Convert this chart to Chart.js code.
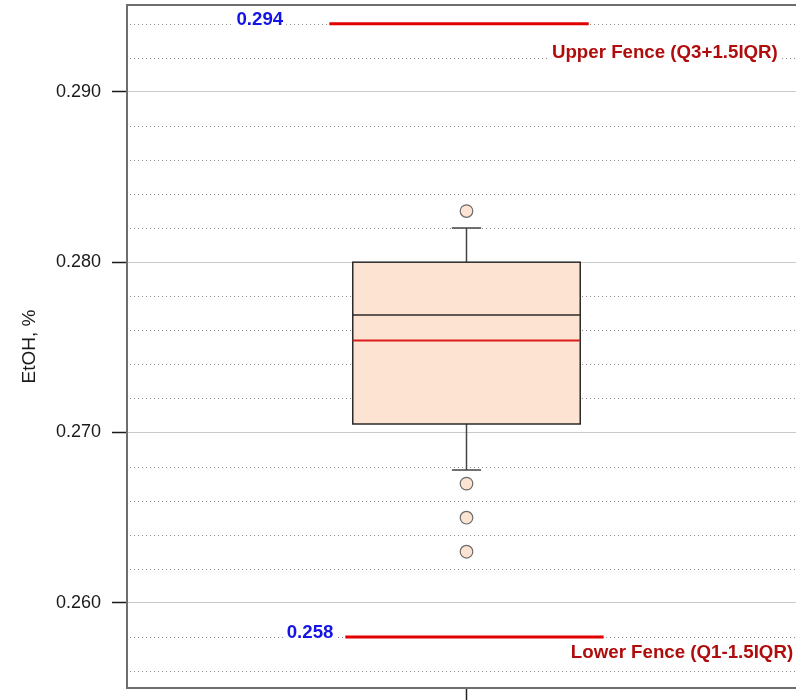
<!DOCTYPE html>
<html>
<head>
<meta charset="utf-8">
<script src="https://cdn.jsdelivr.net/npm/chart.js@4.4.1/dist/chart.umd.min.js"></script>
<style>
  html, body { margin: 0; padding: 0; background: #fff; overflow: hidden; }
  #c { display: block; }
</style>
</head>
<body>
<canvas id="c" width="806" height="700"></canvas>
<script>
// EtOH content: box-and-whisker summary with Tukey fences
const quartiles = [0.2705, 0.2769, 0.2800];      // Q1, median, Q3
const whiskerEnds = [0.2678, 0.2820];             // lower, upper whisker
const meanValue = [0.2754];
const outlierValues = [0.283, 0.267, 0.265, 0.263];
const fenceValues = [0.258, 0.294];               // lower, upper
const fenceNames = ['Lower Fence (Q1-1.5IQR)', 'Upper Fence (Q3+1.5IQR)'];
const majorTicks = [0.26, 0.27, 0.28, 0.29];
const axisTitle = 'EtOH, %';

// ---- layout and style ----
const FONT = '"Liberation Sans", Arial, sans-serif';
const Y_MIN = 0.255, Y_MAX = 0.2951, MINOR_STEP = 0.002;
const BOX_X = 1;                 // box sits in the middle of a 0..2 x range
const BOX_HALF = 0.335;          // half box width, x units
const CAP_HALF = 0.043;          // half whisker cap width, x units
const FENCE_SPAN = [[0.643, 1.404], [0.596, 1.360]];
const NUM_RIGHT = [0.608, 0.460];   // right edge of the value tag
const NAME_RIGHT = [1.962, 1.917];  // right edge of the fence name
const NUM_DY = [-4, -4];
const NAME_DY = [16, 29];

const BOX_FILL = '#FDE4D2';
const FENCE_RED = '#E00000';
const NAME_RED = '#B00C0C';
const TAG_BLUE = '#1414E6';

const boxPlugin = {
  id: 'boxPlot',
  beforeDatasetsDraw(chart) {
    const { ctx, chartArea: a, scales: { x, y } } = chart;

    // dotted minor grid between the major lines
    ctx.save();
    ctx.strokeStyle = '#8c8c8c';
    ctx.lineWidth = 1;
    ctx.setLineDash([1, 3]);
    const n = Math.round((Y_MAX - Y_MIN) / MINOR_STEP);
    for (let k = 0; k <= n + 1; k++) {
      const v = Math.ceil(Y_MIN / MINOR_STEP) * MINOR_STEP + k * MINOR_STEP;
      if (v >= Y_MAX) break;
      if (Math.round(v * 1000) % 10 === 0) continue;
      const py = Math.round(y.getPixelForValue(v)) + 0.5;
      ctx.beginPath();
      ctx.moveTo(a.left + 3, py);
      ctx.lineTo(a.right, py);
      ctx.stroke();
    }
    ctx.restore();

    const cx = x.getPixelForValue(BOX_X);
    const l = x.getPixelForValue(BOX_X - BOX_HALF);
    const r = x.getPixelForValue(BOX_X + BOX_HALF);
    const cl = x.getPixelForValue(BOX_X - CAP_HALF);
    const cr = x.getPixelForValue(BOX_X + CAP_HALF);
    const q1 = y.getPixelForValue(quartiles[0]);
    const md = y.getPixelForValue(quartiles[1]);
    const q3 = y.getPixelForValue(quartiles[2]);
    const wl = y.getPixelForValue(whiskerEnds[0]);
    const wu = y.getPixelForValue(whiskerEnds[1]);
    const mn = y.getPixelForValue(meanValue[0]);

    ctx.save();
    ctx.lineWidth = 1.5;
    ctx.strokeStyle = '#444';
    ctx.beginPath();
    ctx.moveTo(cx, q3); ctx.lineTo(cx, wu);
    ctx.moveTo(cl, wu); ctx.lineTo(cr, wu);
    ctx.moveTo(cx, q1); ctx.lineTo(cx, wl);
    ctx.moveTo(cl, wl); ctx.lineTo(cr, wl);
    ctx.stroke();

    ctx.fillStyle = BOX_FILL;
    ctx.fillRect(l, q3, r - l, q1 - q3);
    ctx.strokeStyle = '#2a2a2a';
    ctx.strokeRect(l, q3, r - l, q1 - q3);

    ctx.beginPath();
    ctx.moveTo(l, md); ctx.lineTo(r, md);
    ctx.stroke();

    ctx.strokeStyle = '#DC1C1C';
    ctx.lineWidth = 2;
    ctx.beginPath();
    ctx.moveTo(l, mn); ctx.lineTo(r, mn);
    ctx.stroke();
    ctx.restore();
  },
  afterDatasetsDraw(chart) {
    const { ctx, scales: { x, y } } = chart;
    ctx.save();
    ctx.font = 'bold 18.7px ' + FONT;
    ctx.textBaseline = 'middle';
    ctx.textAlign = 'right';
    const tag = (text, xr, yc, color) => {
      const w = ctx.measureText(text).width;
      ctx.fillStyle = '#fff';
      ctx.fillRect(xr - w - 3, yc - 9, w + 6, 18);
      ctx.fillStyle = color;
      ctx.fillText(text, xr, yc);
    };
    fenceValues.forEach((v, i) => {
      const py = y.getPixelForValue(v);
      tag(v.toFixed(3), x.getPixelForValue(NUM_RIGHT[i]), py + NUM_DY[i], TAG_BLUE);
      tag(fenceNames[i], x.getPixelForValue(NAME_RIGHT[i]), py + NAME_DY[i], NAME_RED);
    });
    ctx.restore();
  },
  afterDraw(chart) {
    const { ctx, chartArea: a } = chart;
    ctx.save();
    ctx.strokeStyle = '#6e6e6e';
    ctx.lineWidth = 2;
    ctx.beginPath();
    ctx.moveTo(a.right + 2, a.top); ctx.lineTo(a.left, a.top);
    ctx.lineTo(a.left, a.bottom); ctx.lineTo(a.right + 2, a.bottom);
    ctx.stroke();
    ctx.restore();
  }
};

const fenceDatasets = fenceValues.map((v, i) => ({
  type: 'line',
  data: FENCE_SPAN[i].map(xv => ({ x: xv, y: v })),
  borderColor: FENCE_RED,
  borderWidth: 3,
  pointRadius: 0,
  fill: false
}));

new Chart(document.getElementById('c'), {
  type: 'scatter',
  data: {
    datasets: [
      ...fenceDatasets,
      {
        type: 'scatter',
        data: outlierValues.map(v => ({ x: BOX_X, y: v })),
        pointRadius: 6.3,
        pointHoverRadius: 6.3,
        backgroundColor: BOX_FILL,
        borderColor: '#6a6a6a',
        borderWidth: 1.2
      }
    ]
  },
  options: {
    responsive: false,
    maintainAspectRatio: false,
    animation: false,
    events: [],
    layout: { autoPadding: false, padding: { top: 5, left: 0, right: 0, bottom: 0 } },
    plugins: { legend: { display: false }, tooltip: { enabled: false } },
    scales: {
      x: {
        type: 'linear', position: 'bottom', min: 0, max: 2,
        afterBuildTicks: s => { s.ticks = [{ value: BOX_X }]; },
        afterFit: s => { s.height = 12; s.paddingLeft = 0; s.paddingRight = 0; },
        ticks: { callback: () => '', padding: 0 },
        grid: { drawOnChartArea: false, drawTicks: true, tickLength: 12, tickColor: '#222', tickWidth: 1.5 },
        border: { display: false }
      },
      y: {
        type: 'linear', position: 'left', min: Y_MIN, max: Y_MAX,
        afterBuildTicks: s => { s.ticks = majorTicks.map(v => ({ value: v })); },
        afterFit: s => { s.width = 127; s.paddingTop = 0; s.paddingBottom = 0; },
        ticks: {
          color: '#1a1a1a', padding: 11,
          font: { family: FONT, size: 18 },
          callback: v => Number(v).toFixed(3)
        },
        grid: { color: '#c9c9c9', lineWidth: 1, tickLength: 15, tickColor: '#1a1a1a', tickWidth: 1.5 },
        border: { display: false },
        title: {
          display: true, text: axisTitle, color: '#1a1a1a',
          font: { family: FONT, size: 19 },
          padding: { top: 18.5, bottom: 0 }
        }
      }
    }
  },
  plugins: [boxPlugin]
});
</script>
</body>
</html>
